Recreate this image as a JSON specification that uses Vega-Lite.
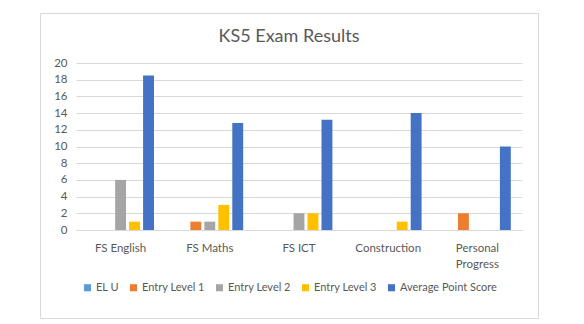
{
  "$schema": "https://vega.github.io/schema/vega-lite/v6.json",
  "width": 498,
  "height": 305,
  "autosize": {"type": "none"},
  "padding": {"left": 40, "top": 13, "right": 46, "bottom": 6},
  "background": "white",
  "title": {"text": "KS5 Exam Results", "fontSize": 18, "font": "Lato", "fontWeight": "normal", "color": "#595959", "offset": -33},
  "config": {
    "view": {"stroke": "#d9d9d9", "strokeWidth": 1},
    "font": "Lato"
  },
  "data": {"values": [
    {"subject": "FS English", "series": "EL U", "value": 0},
    {"subject": "FS English", "series": "Entry Level 1", "value": 0},
    {"subject": "FS English", "series": "Entry Level 2", "value": 6},
    {"subject": "FS English", "series": "Entry Level 3", "value": 1},
    {"subject": "FS English", "series": "Average Point Score", "value": 18.5},
    {"subject": "FS Maths", "series": "EL U", "value": 0},
    {"subject": "FS Maths", "series": "Entry Level 1", "value": 1},
    {"subject": "FS Maths", "series": "Entry Level 2", "value": 1},
    {"subject": "FS Maths", "series": "Entry Level 3", "value": 3},
    {"subject": "FS Maths", "series": "Average Point Score", "value": 12.8},
    {"subject": "FS ICT", "series": "EL U", "value": 0},
    {"subject": "FS ICT", "series": "Entry Level 1", "value": 0},
    {"subject": "FS ICT", "series": "Entry Level 2", "value": 2},
    {"subject": "FS ICT", "series": "Entry Level 3", "value": 2},
    {"subject": "FS ICT", "series": "Average Point Score", "value": 13.2},
    {"subject": "Construction", "series": "EL U", "value": 0},
    {"subject": "Construction", "series": "Entry Level 1", "value": 0},
    {"subject": "Construction", "series": "Entry Level 2", "value": 0},
    {"subject": "Construction", "series": "Entry Level 3", "value": 1},
    {"subject": "Construction", "series": "Average Point Score", "value": 14.0},
    {"subject": "Personal Progress", "series": "EL U", "value": 0},
    {"subject": "Personal Progress", "series": "Entry Level 1", "value": 2},
    {"subject": "Personal Progress", "series": "Entry Level 2", "value": 0},
    {"subject": "Personal Progress", "series": "Entry Level 3", "value": 0},
    {"subject": "Personal Progress", "series": "Average Point Score", "value": 10}
  ]},
  "mark": {"type": "bar"},
  "encoding": {
    "x": {
      "field": "subject", "type": "nominal",
      "sort": ["FS English", "FS Maths", "FS ICT", "Construction", "Personal Progress"],
      "scale": {"range": [36, 482], "paddingInner": 0.22, "paddingOuter": 0.11},
      "axis": {
        "title": null, "labelAngle": 0, "ticks": false, "offset": -88,
        "domainColor": "#d9d9d9", "labelColor": "#595959", "labelFontSize": 11.5, "labelPadding": 12,
        "labelExpr": "datum.label == 'Personal Progress' ? ['Personal', 'Progress'] : datum.label",
        "labelLineHeight": 16
      }
    },
    "xOffset": {
      "field": "series", "type": "nominal",
      "sort": ["EL U", "Entry Level 1", "Entry Level 2", "Entry Level 3", "Average Point Score"],
      "scale": {"paddingInner": 0.22, "paddingOuter": 0.1}
    },
    "y": {
      "field": "value", "type": "quantitative",
      "scale": {"domain": [0, 20], "range": [217, 50], "nice": false},
      "axis": {
        "title": null, "values": [0, 2, 4, 6, 8, 10, 12, 14, 16, 18, 20],
        "domain": false, "ticks": false, "offset": -36, "labelPadding": 9,
        "gridColor": "#d9d9d9", "labelColor": "#595959", "labelFontSize": 11.5
      }
    },
    "color": {
      "field": "series", "type": "nominal",
      "scale": {
        "domain": ["EL U", "Entry Level 1", "Entry Level 2", "Entry Level 3", "Average Point Score"],
        "range": ["#5B9BD5", "#ED7D31", "#A5A5A5", "#FFC000", "#4472C4"]
      },
      "legend": {
        "title": null, "orient": "none", "legendX": 42, "legendY": 269, "direction": "horizontal",
        "symbolType": "square", "symbolSize": 50, "labelColor": "#595959", "labelFontSize": 11,
        "columnPadding": 9, "symbolStrokeWidth": 0, "labelOffset": 3
      }
    }
  }
}
